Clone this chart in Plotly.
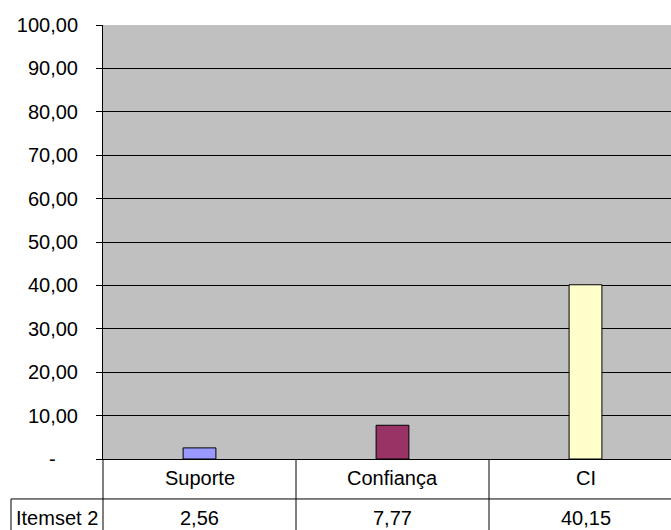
import plotly.graph_objects as go

# ---- data ----
categories = ["Suporte", "Confiança", "CI"]
series_name = "Itemset 2"
values = [2.56, 7.77, 40.15]
bar_colors = ["#9999FF", "#993366", "#FFFFCC"]
y_tick_values = [0, 10, 20, 30, 40, 50, 60, 70, 80, 90, 100]
y_tick_labels = ["-" + "\u00a0" * 4, "10,00", "20,00", "30,00", "40,00", "50,00",
                 "60,00", "70,00", "80,00", "90,00", "100,00"]

W, H = 671, 530
L, T, B = 103, 24.5, 459.0
plot_h = B - T
plot_w = W - L

def py(p):
    """pixel y -> paper y"""
    return (B - p) / plot_h

def px(p):
    """pixel x -> paper x"""
    return (p - L) / plot_w

FONT = "Liberation Sans, Arial, sans-serif"
fs = 20

fig = go.Figure()
fig.add_trace(go.Bar(
    x=list(range(len(categories))), y=values, name=series_name,
    marker=dict(color=bar_colors, line=dict(color="#000000", width=1)),
    width=0.17, showlegend=False, hoverinfo="skip"))

shapes = []
row1_bottom = py(499)
bottom = -0.3
shapes.append(dict(type="line", xref="paper", yref="paper", x0=px(11), x1=1.0,
                   y0=row1_bottom, y1=row1_bottom, line=dict(color="black", width=1)))
shapes.append(dict(type="line", xref="paper", yref="paper", x0=0, x1=0,
                   y0=0, y1=bottom, line=dict(color="black", width=1)))
shapes.append(dict(type="line", xref="paper", yref="paper", x0=px(11), x1=px(11),
                   y0=row1_bottom, y1=bottom, line=dict(color="black", width=1)))
for i in range(len(categories) - 1):
    shapes.append(dict(type="line", xref="x", yref="paper", x0=i + 0.5, x1=i + 0.5,
                       y0=0, y1=bottom, line=dict(color="black", width=1)))

annotations = []
for i, c in enumerate(categories):
    annotations.append(dict(x=i, xref="x", y=py(478), yref="paper", text=c,
                            showarrow=False, font=dict(family=FONT, size=fs, color="black"),
                            xanchor="center", yanchor="middle"))
    annotations.append(dict(x=i, xref="x", y=py(518), yref="paper",
                            text=f"{values[i]:.2f}".replace(".", ","),
                            showarrow=False, font=dict(family=FONT, size=fs, color="black"),
                            xanchor="center", yanchor="middle"))
annotations.append(dict(x=px(57), xref="paper", y=py(518), yref="paper", text=series_name,
                        showarrow=False, font=dict(family=FONT, size=fs, color="black"),
                        xanchor="center", yanchor="middle"))

cat_w = 193.0
x_end = -0.5 + plot_w / cat_w

fig.update_layout(
    width=W, height=H,
    margin=dict(l=L, r=0, t=T, b=H - B, pad=0),
    paper_bgcolor="white", plot_bgcolor="#C0C0C0",
    font=dict(family=FONT, size=fs, color="black"),
    shapes=shapes, annotations=annotations,
    xaxis=dict(range=[-0.5, x_end], showticklabels=False, showgrid=False, zeroline=False,
               showline=True, linecolor="black", linewidth=1, ticks="", fixedrange=True),
    yaxis=dict(range=[0, 100], tickvals=y_tick_values, ticktext=y_tick_labels,
               showgrid=True, gridcolor="black", gridwidth=1, zeroline=False,
               showline=True, linecolor="black", linewidth=1,
               ticks="outside", ticklen=6, tickcolor="black", tickwidth=1,
               ticklabelstandoff=14, fixedrange=True,
               tickfont=dict(family=FONT, size=fs, color="black")),
    bargap=0,
)

fig.write_html(
    "out.html",
    config={"displayModeBar": False, "staticPlot": True},
    post_script="document.body.style.margin='0';document.body.style.overflow='hidden';",
)
